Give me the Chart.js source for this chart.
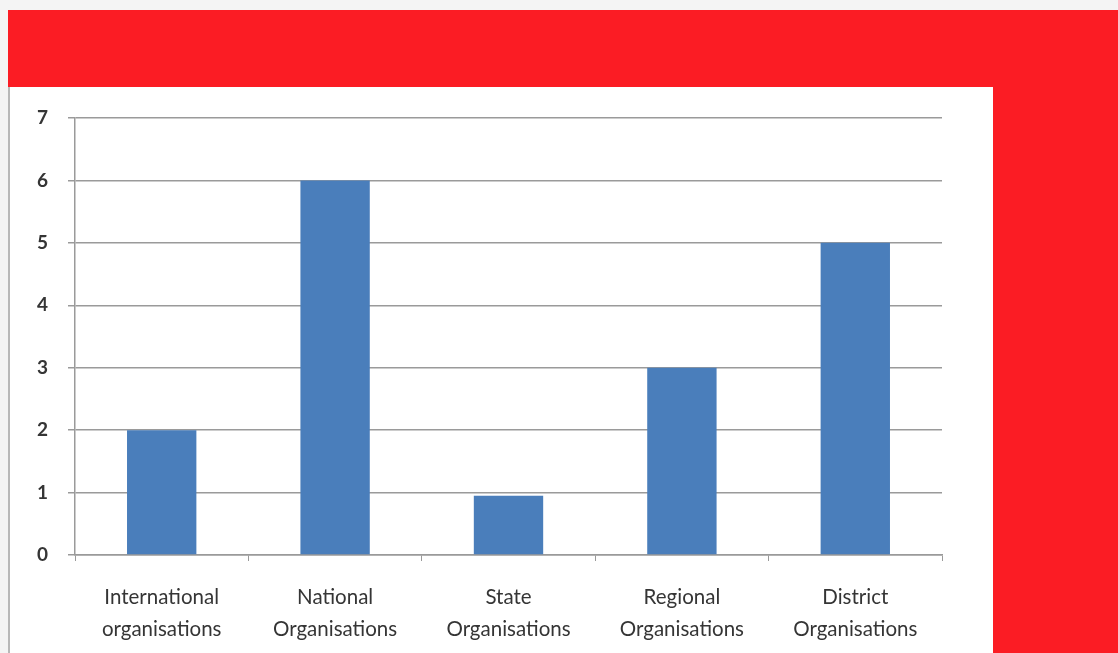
<!DOCTYPE html>
<html>
<head>
<meta charset="utf-8">
<script src="https://cdn.jsdelivr.net/npm/chart.js@4.4.1/dist/chart.umd.min.js"></script>
<style>
    html, body { margin: 0; padding: 0; width: 1118px; height: 653px; overflow: hidden; background: #f4f4f4; }
    #marcoRojo { position: absolute; left: 8px; top: 10px; width: 1110px; height: 643px; background: #fb1c24; }
    #panelBlanco { position: absolute; left: 8px; top: 87px; width: 983px; height: 566px; background: #ffffff; border-left: 2px solid #b8b8b8; }
    #lienzo { position: absolute; left: 0; top: 0; }
</style>
</head>
<body>
<div id="marcoRojo"></div>
<div id="panelBlanco"></div>
<canvas id="lienzo" width="1118" height="653"></canvas>
<script>
// Datos de la gráfica
const categorias = [
    ['International', 'organisations'],
    ['National', 'Organisations'],
    ['State', 'Organisations'],
    ['Regional', 'Organisations'],
    ['District', 'Organisations']
];
const valores = [2, 6, 0.95, 3, 5];
const marcasEjeY = [0, 1, 2, 3, 4, 5, 6, 7];

const colorTexto = '#353535';
const colorLineas = '#9a9a9a';

const ctx = document.getElementById('lienzo').getContext('2d');

new Chart(ctx, {
    type: 'bar',
    data: {
        labels: categorias,
        datasets: [{
            data: valores,
            backgroundColor: '#4a7ebb',
            borderWidth: 0,
            barPercentage: 0.4,
            categoryPercentage: 1.0
        }]
    },
    options: {
        responsive: false,
        animation: false,
        layout: { padding: { left: 30, right: 176, top: 118, bottom: 0 } },
        plugins: {
            legend: { display: false },
            tooltip: { enabled: false }
        },
        scales: {
            x: {
                grid: {
                    offset: true,
                    drawOnChartArea: false,
                    drawTicks: true,
                    tickLength: 6,
                    color: colorLineas
                },
                border: { color: colorLineas, width: 1.5 },
                ticks: {
                    color: colorTexto,
                    font: { family: 'Lato', size: 20.5, lineHeight: 1.55 },
                    padding: 21,
                    maxRotation: 0,
                    autoSkip: false
                },
                afterFit: (escala) => { escala.height = 98; }
            },
            y: {
                min: 0,
                max: 7,
                afterBuildTicks: (escala) => {
                    escala.ticks = marcasEjeY.map(v => ({ value: v }));
                },
                grid: {
                    color: colorLineas,
                    lineWidth: 1.5,
                    drawTicks: true,
                    tickLength: 7
                },
                border: { color: colorLineas, width: 1.5 },
                ticks: {
                    color: colorTexto,
                    font: { family: 'Lato', size: 19, weight: 'bold' },
                    padding: 20
                },
                afterFit: (escala) => { escala.width = 45; }
            }
        }
    }
});
</script>
</body>
</html>
